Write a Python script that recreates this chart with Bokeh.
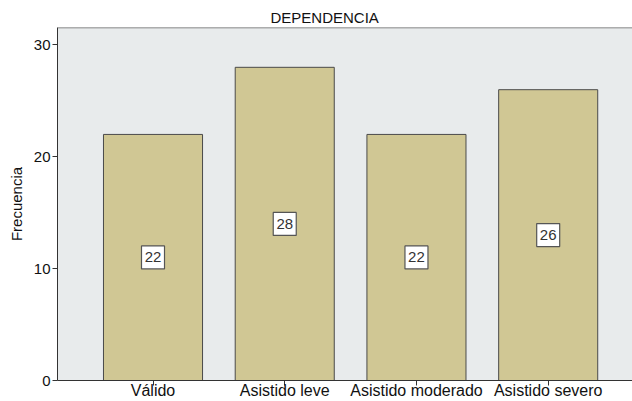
from bokeh.plotting import figure
from bokeh.models import ColumnDataSource, Range1d, Span, FixedTicker
from bokeh.core.properties import value
from bokeh.embed import file_html
from bokeh.resources import INLINE

categories = ["Válido", "Asistido leve", "Asistido moderado", "Asistido severo"]
counts = [22, 28, 22, 26]
y_ticks = [0, 10, 20, 30]

xs = list(range(1, len(categories) + 1))
src = ColumnDataSource(dict(
    x=xs,
    top=counts,
    mid=[c / 2 for c in counts],
    lab=[str(c) for c in counts],
))

FONT = "Liberation Sans"

p = figure(width=632, height=401, output_backend="svg", toolbar_location=None,
           x_range=Range1d(0.275, 4.64), y_range=Range1d(0, 31.56),
           title="DEPENDENCIA",
           min_border_left=57, min_border_right=0, min_border_top=27, min_border_bottom=20)

p.vbar(x="x", top="top", width=0.752, source=src, fill_color="#d0c794",
       line_color="#4a4a4a", line_width=1)

p.rect(x="x", y="mid", width=23, height=23, width_units="screen", height_units="screen",
       source=src, fill_color="white", line_color="#555555", line_width=1.2)
p.text(x="x", y="mid", text="lab", source=src, text_align="center",
       text_baseline="middle", text_font=value(FONT), text_font_size="15px",
       text_color="#333333")

p.background_fill_color = "#e8ebec"
p.border_fill_color = "white"
p.outline_line_color = None
p.add_layout(Span(location=31.56, dimension="width", line_color="#666666", line_width=1.5))
p.xgrid.visible = False
p.ygrid.visible = False

p.title.align = "left"
p.title.text_font = FONT
p.title.text_font_size = "15px"
p.title.text_font_style = "normal"
p.title.text_color = "#111111"
p.title.offset = 213
p.title.standoff = 4

p.xaxis.ticker = FixedTicker(ticks=xs)
p.xaxis.major_label_overrides = {i: c for i, c in zip(xs, categories)}
p.xaxis.minor_tick_line_color = None
p.xaxis.major_tick_in = 0
p.xaxis.major_tick_out = 5
p.xaxis.major_label_standoff = -4
p.xaxis.major_label_text_font = FONT
p.xaxis.major_label_text_font_size = "16px"
p.xaxis.major_label_text_color = "#111111"
p.xaxis.axis_line_color = "#333333"
p.xaxis.major_tick_line_color = "#333333"

p.yaxis.ticker = FixedTicker(ticks=y_ticks)
p.yaxis.minor_tick_line_color = None
p.yaxis.major_tick_in = 0
p.yaxis.major_tick_out = 5
p.yaxis.major_label_standoff = 2
p.yaxis.major_label_text_font = FONT
p.yaxis.major_label_text_font_size = "15px"
p.yaxis.major_label_text_color = "#111111"
p.yaxis.axis_label = "Frecuencia"
p.yaxis.axis_label_text_font = FONT
p.yaxis.axis_label_text_font_size = "15px"
p.yaxis.axis_label_text_font_style = "normal"
p.yaxis.axis_label_text_color = "#111111"
p.yaxis.axis_label_standoff = 6
p.yaxis.axis_line_color = "#333333"
p.yaxis.major_tick_line_color = "#333333"

open("out.html", "w").write(file_html(p, INLINE))
